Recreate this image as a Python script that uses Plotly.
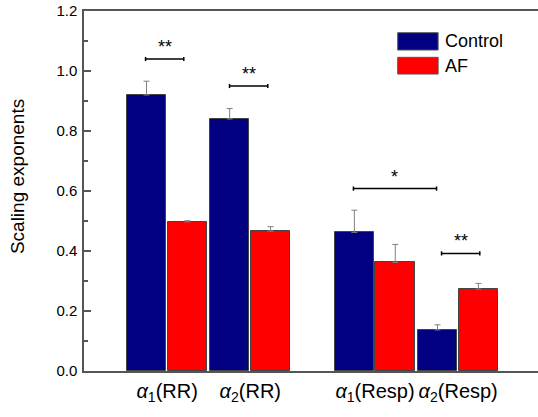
import plotly.graph_objects as go

# ---- data ----
categories = ["α1(RR)", "α2(RR)", "α1(Resp)", "α2(Resp)"]
tick_labels = ["<i>α</i><sub>1</sub>(RR)", "<i>α</i><sub>2</sub>(RR)",
               "<i>α</i><sub>1</sub>(Resp)", "<i>α</i><sub>2</sub>(Resp)"]
x_pos = [1, 2, 3.5, 4.5]
control = [0.920, 0.840, 0.462, 0.137]
control_err = [0.046, 0.035, 0.074, 0.017]
af = [0.497, 0.466, 0.362, 0.273]
af_err = [0.004, 0.015, 0.060, 0.019]
no_err = [0, 0, 0, 0]

# significance brackets (data coordinates)
sig_x0 = [0.74, 1.75, 3.24, 4.30]
sig_x1 = [1.20, 2.21, 4.24, 4.76]
sig_y = [1.040, 0.950, 0.608, 0.392]
sig_label = ["**", "**", "*", "**"]

series_names = ["Control", "AF"]
series_colors = ["#000080", "#FF0000"]
y_title = "Scaling exponents"

FONT = "Arial, 'Liberation Sans', sans-serif"

fig = go.Figure()
err_style = dict(type="data", symmetric=False, color="#808080", thickness=1, width=3)

fig.add_trace(go.Bar(
    x=x_pos, y=control, name=series_names[0], offset=-0.487, width=0.477,
    marker=dict(color=series_colors[0], line=dict(color="#444444", width=1)),
    error_y=dict(array=control_err, arrayminus=no_err, **err_style),
    showlegend=False))
fig.add_trace(go.Bar(
    x=x_pos, y=af, name=series_names[1], offset=0.005, width=0.477,
    marker=dict(color=series_colors[1], line=dict(color="#444444", width=1)),
    error_y=dict(array=af_err, arrayminus=no_err, **err_style),
    showlegend=False))

shapes = []
annotations = []
cap = 0.007
for x0, x1, y, lab in zip(sig_x0, sig_x1, sig_y, sig_label):
    line = dict(color="black", width=1.5)
    shapes.append(dict(type="line", xref="x", yref="y", x0=x0, x1=x1, y0=y, y1=y, line=line))
    shapes.append(dict(type="line", xref="x", yref="y", x0=x0, x1=x0, y0=y - cap, y1=y + cap, line=line))
    shapes.append(dict(type="line", xref="x", yref="y", x0=x1, x1=x1, y0=y - cap, y1=y + cap, line=line))
    annotations.append(dict(x=(x0 + x1) / 2, y=y, xref="x", yref="y", text=lab,
                            showarrow=False, yanchor="bottom", yshift=0,
                            font=dict(family=FONT, size=18, color="black")))

# custom legend (paper coordinates)
leg_x0, leg_x1, leg_text_x = 0.691, 0.780, 0.791
leg_rows = [(0.9397, 0.8916), (0.8713, 0.8249)]
for (ytop, ybot), name, col in zip(leg_rows, series_names, series_colors):
    shapes.append(dict(type="rect", xref="paper", yref="paper", x0=leg_x0, x1=leg_x1,
                       y0=ybot, y1=ytop, fillcolor=col, line=dict(color="#555555", width=1)))
    annotations.append(dict(x=leg_text_x, y=(ytop + ybot) / 2, xref="paper", yref="paper",
                            text=name, showarrow=False, xanchor="left", yanchor="middle",
                            font=dict(family=FONT, size=18, color="black")))

# y-axis title (placed as rotated annotation, slightly above centre as in reference)
annotations.append(dict(x=-0.1465, y=0.54, xref="paper", yref="paper", text=y_title,
                        showarrow=False, textangle=-90, xanchor="center", yanchor="middle",
                        font=dict(family=FONT, size=19, color="black")))

fig.update_layout(
    width=538, height=417,
    margin=dict(l=84, r=0, t=11, b=46),
    paper_bgcolor="white", plot_bgcolor="white",
    font=dict(family=FONT, color="black"),
    shapes=shapes, annotations=annotations,
    bargap=0,
)
fig.update_xaxes(
    range=[0, 5.46], tickvals=x_pos, ticktext=tick_labels,
    showgrid=False, zeroline=False, ticks="",
    showline=True, linecolor="#555555", linewidth=1.5, mirror=True,
    tickfont=dict(family=FONT, size=20, color="black"), ticklabelstandoff=1,
)
fig.update_yaxes(
    range=[0, 1.2], tickvals=[0, 0.2, 0.4, 0.6, 0.8, 1.0, 1.2],
    ticktext=["0.0", "0.2", "0.4", "0.6", "0.8", "1.0", "1.2"],
    showgrid=False, zeroline=False,
    ticks="inside", ticklen=7, tickwidth=1.5, tickcolor="#555555",
    minor=dict(dtick=0.1, ticks="inside", ticklen=4, tickwidth=1.5, tickcolor="#555555", showgrid=False),
    showline=True, linecolor="#555555", linewidth=1.5, mirror=False,
    tickfont=dict(family=FONT, size=15, color="black"), ticklabelstandoff=2,
)

fig.write_html("out.html", config={"displayModeBar": False},
               post_script="document.body.style.margin='0';document.body.style.overflow='hidden';")
